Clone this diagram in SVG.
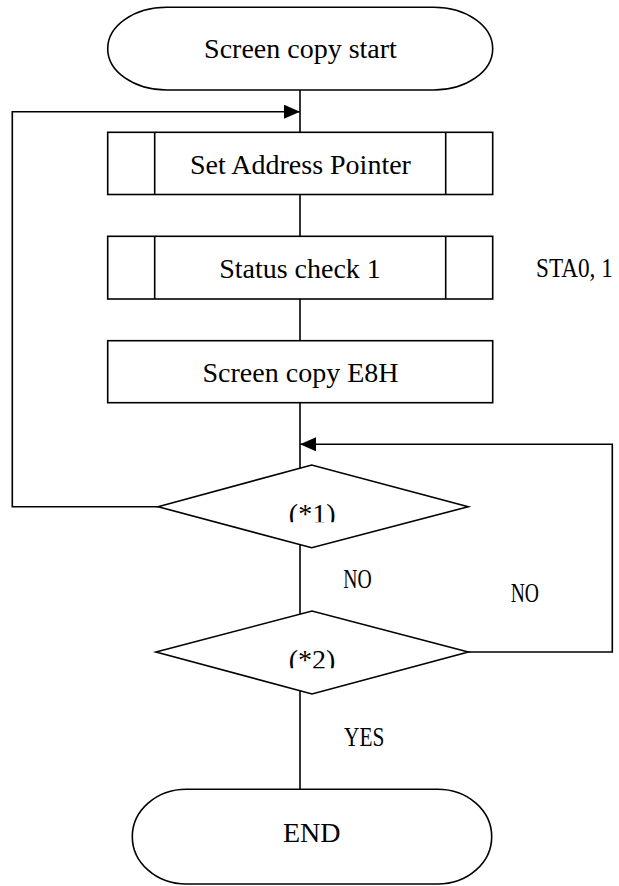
<svg xmlns="http://www.w3.org/2000/svg" width="619" height="886" viewBox="0 0 619 886">
<style>
.shape{fill:#fff;stroke:#000;stroke-width:1.6}
.ln{fill:none;stroke:#000;stroke-width:1.6}
.big{font-family:"Liberation Serif","Times New Roman",serif;font-size:28px;fill:#000;text-anchor:middle}
.lbl{font-family:"Liberation Serif","Times New Roman",serif;font-size:27px;fill:#000}
</style>
<defs>
<marker id="arr" markerUnits="userSpaceOnUse" markerWidth="16" markerHeight="14" refX="16" refY="7" orient="auto">
<path d="M0,0 L16,7 L0,14 Z" fill="#000"/>
</marker>
<clipPath id="c1"><rect x="250" y="480" width="130" height="42.3"/></clipPath>
<clipPath id="c2"><rect x="250" y="625" width="130" height="43.3"/></clipPath>
</defs>
<rect width="619" height="886" fill="#fff"/>
<g id="connectors">
<path class="ln" d="M300,90 V132.3"/>
<path class="ln" d="M300,194.5 V236.3"/>
<path class="ln" d="M300,299 V340.7"/>
<path class="ln" d="M300,402.7 V468.3"/>
<path class="ln" d="M300,544.3 V614.2"/>
<path class="ln" d="M300,690.8 V789.3"/>
<path class="ln" d="M158,506.7 H12.3 V111.7 H300" marker-end="url(#arr)"/>
<path class="ln" d="M468.3,652 H612.3 V444.3 H300" marker-end="url(#arr)"/>
</g>
<g id="start">
<path class="shape" d="M166.7,7.3 H433.7 A59,41.35 0 0 1 433.7,90 H166.7 A59,41.35 0 0 1 166.7,7.3 Z"/>
<text class="big" x="300.5" y="58.3">Screen copy start</text>
</g>
<g id="setAddressPointer">
<rect class="shape" x="107.7" y="132.3" width="385" height="62.2"/>
<path class="ln" d="M154.7,132.3 V194.5 M445.7,132.3 V194.5"/>
<text class="big" x="300.5" y="173.5">Set Address Pointer</text>
</g>
<g id="statusCheck1">
<rect class="shape" x="107.7" y="236.3" width="385" height="62.7"/>
<path class="ln" d="M154.7,236.3 V299 M445.7,236.3 V299"/>
<text class="big" x="300" y="277.5">Status check 1</text>
</g>
<g id="sta01">
<text class="lbl" transform="translate(536,276.7) scale(0.86,1)" x="0" y="0">STA0, 1</text>
</g>
<g id="screenCopyE8H">
<rect class="shape" x="107.7" y="340.7" width="385" height="62"/>
<text class="big" x="300.5" y="381.5">Screen copy E8H</text>
</g>
<g id="decision1">
<polygon class="shape" points="158,506.7 311.7,465 468.3,506.7 311.7,547.7"/>
<text class="big" x="312.2" y="522.6" clip-path="url(#c1)">(*1)</text>
</g>
<g id="decision2">
<polygon class="shape" points="156,652 312,611 468.3,652 312,694"/>
<text class="big" x="312" y="668.6" clip-path="url(#c2)">(*2)</text>
</g>
<g id="labels">
<text class="lbl" x="343.3" y="588.3" textLength="28.4" lengthAdjust="spacingAndGlyphs">NO</text>
<text class="lbl" x="510.7" y="601.5" textLength="28.3" lengthAdjust="spacingAndGlyphs">NO</text>
<text class="lbl" x="344" y="746" textLength="40.3" lengthAdjust="spacingAndGlyphs">YES</text>
</g>
<g id="end">
<path class="shape" d="M186.3,789.3 H437.7 A54,47.35 0 0 1 437.7,884 H186.3 A54,47.35 0 0 1 186.3,789.3 Z"/>
<text class="big" x="311.7" y="841.7">END</text>
</g>
</svg>
